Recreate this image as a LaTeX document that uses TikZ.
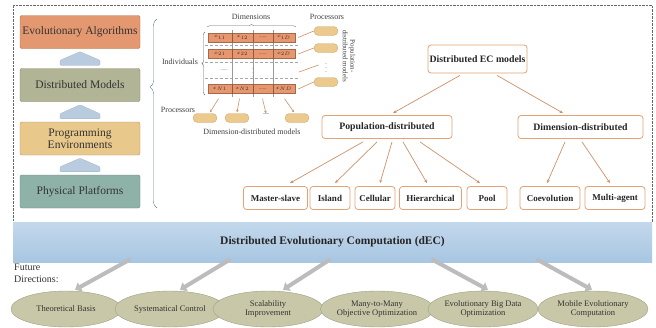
\documentclass[tikz,border=0pt]{standalone}
\usepackage{fontspec}
\setmainfont{Liberation Serif}
\usetikzlibrary{shapes.geometric}
\usetikzlibrary{arrows.meta}
\usetikzlibrary{decorations.pathreplacing}
\usetikzlibrary{positioning}

\definecolor{eaorange}{RGB}{228,152,112}
\definecolor{dmolive}{RGB}{178,180,150}
\definecolor{peyellow}{RGB}{233,200,140}
\definecolor{ppteal}{RGB}{143,178,168}
\definecolor{layerup}{RGB}{185,203,222}
\definecolor{ecedge}{RGB}{226,162,116}
\definecolor{ecline}{RGB}{205,145,105}
\definecolor{cellfill}{RGB}{232,150,110}
\definecolor{pillfill}{RGB}{236,202,142}
\definecolor{bandblue}{RGB}{168,198,226}
\definecolor{bandtop}{RGB}{195,216,236}
\definecolor{futfill}{RGB}{200,200,168}
\definecolor{arrowgray}{RGB}{188,188,188}
\definecolor{bracecol}{RGB}{100,125,140}

\tikzset{
  layerbox/.style={draw=#1!75!black, fill=#1, rounded corners=2pt, minimum width=120pt,
    minimum height=33pt, inner sep=1pt, align=center, text=black!80,
    font=\fontsize{11.5}{12.5}\selectfont},
  layerup/.style={fill=layerup, draw=layerup!85!black, very thin, rounded corners=1pt},
  ecbox/.style={draw=ecedge, fill=white, rounded corners=3pt, line width=0.8pt,
    minimum height=23pt, inner sep=1pt, text=black!85,
    font=\fontsize{9}{10}\selectfont\bfseries},
  ecbig/.style={ecbox, font=\fontsize{9.8}{11}\selectfont\bfseries},
  treearrow/.style={draw=ecline, line width=0.7pt, -{Stealth[length=3.5pt,width=3pt]}},
  cellrow/.style={draw=cellfill!70!black, fill=cellfill, minimum width=87pt,
    minimum height=9pt, inner sep=0pt},
  celltext/.style={font=\fontsize{5}{6}\selectfont, text=black!80, inner sep=0.5pt},
  pill/.style={fill=pillfill, draw=pillfill!85!black, rounded corners=4.5pt,
    minimum width=24pt, minimum height=9pt, inner sep=0pt},
  procline/.style={draw=ecline, line width=0.6pt},
  smalltext/.style={font=\fontsize{8}{8.5}\selectfont, text=black!75, inner sep=1pt},
  bandbox/.style={top color=bandtop, bottom color=bandblue, draw=none,
    minimum width=639pt, minimum height=40pt,
    font=\fontsize{11.5}{12.5}\selectfont\bfseries, text=black!85},
  futnode/.style={ellipse, fill=futfill, draw=futfill!80!black, minimum width=110pt,
    minimum height=36pt, inner sep=0pt, align=center, text=black!80,
    font=\fontsize{8.5}{9.5}\selectfont},
  blockarrow/.style={draw=arrowgray, line width=4pt, -{Triangle[length=6pt,width=10pt]}},
}

\begin{document}
\begin{tikzpicture}[x=1pt,y=-1pt]
\useasboundingbox (0,0) rectangle (656,327);
\fill[white] (0,0) rectangle (656,327);

% outer frame
\draw[densely dotted, black!60] (13,222) -- (13,5) -- (652,5) -- (652,222);

% layers on the left
\node[layerbox=eaorange] (ea) at (80,32) {Evolutionary Algorithms};
\node[layerbox=dmolive] (dm) at (80,85) {Distributed Models};
\node[layerbox=peyellow] (pe) at (80,138.5) {Programming\\Environments};
\node[layerbox=ppteal] (pp) at (80,191.5) {Physical Platforms};
\foreach \lo/\hi in {dm/ea, pe/dm, pp/pe}{
  \filldraw[layerup] ([xshift=-20pt,yshift=3pt]\lo.north) -- ([xshift=-20pt,yshift=8pt]\lo.north)
    -- ([yshift=-3pt]\hi.south) -- ([xshift=20pt,yshift=8pt]\lo.north)
    -- ([xshift=20pt,yshift=3pt]\lo.north) -- cycle;
}
\draw[bracecol, thin, decorate, decoration={brace, amplitude=7pt, aspect=0.64}]
  (157,208) -- (157,19);

% individuals x dimensions
\draw[black!35, densely dashed, very thin] (205,45.5) -- (300,45.5);
\draw[black!35, densely dashed, very thin] (205,62) -- (300,62);
\draw[black!35, densely dashed, very thin] (205,78) -- (300,78);
\foreach \x in {232,253,273}{
  \draw[black!40, very thin] (\x,30) -- (\x,97);
}
\node[cellrow] (row1) at (251.5,37.5) {};
\node[cellrow] (row2) at (251.5,54) {};
\node[cellrow] (rowN) at (251.5,89) {};
\foreach \r/\i in {row1/1, row2/2, rowN/N}{
  \foreach \d in {24,45,65}{
    \draw[cellfill!60!black, thin] ([xshift=\d pt]\r.north west) -- ([xshift=\d pt]\r.south west);
  }
  \node[celltext] at ([xshift=12pt]\r.west) {$x_{\i 1}$};
  \node[celltext] at ([xshift=34.5pt]\r.west) {$x_{\i 2}$};
  \node[celltext] at ([xshift=55pt]\r.west) {......};
  \node[celltext] at ([xshift=76pt]\r.west) {$x_{\i D}$};
}
\node[celltext] (rowdots) at (224,70) {......};
\node[celltext] at (253,70) {$\vdots$};

\draw[black!60, thin, decorate, decoration={brace, amplitude=2.5pt}] (207,27) -- (296,27);
\node[smalltext] (dimlabel) at (251,17) {Dimensions};
\draw[black!60, thin, decorate, decoration={brace, amplitude=3pt}] (205,95) -- (205,32);
\node[smalltext] (indlabel) at (180,62) {Individuals};

% processors of population-distributed models
\node[smalltext] (procright) at (327,17) {Processors};
\node[pill] (pr1) at (326,31) {};
\node[pill] (pr2) at (326,48) {};
\node[celltext, font=\fontsize{6}{6}\selectfont] (prdots) at (326,65) {$\vdots$};
\node[pill] (pr3) at (326,82) {};
\draw[procline] ([xshift=3pt]row1.east) -- (pr1.west);
\draw[procline] ([xshift=3pt]row2.east) -- (pr2.west);
\draw[procline] (299,72) -- ([xshift=-6pt]prdots.west);
\draw[procline] ([xshift=3pt]rowN.east) -- (pr3.west);
\node[smalltext, rotate=-90, align=center, font=\fontsize{7}{7.5}\selectfont] (poplabel) at (349,56)
  {Population-\\distributed models};

% processors of dimension-distributed models
\node[smalltext] (procbottom) at (178,110) {Processors};
\node[pill] (pb1) at (205,118) {};
\node[pill] (pb2) at (237,118) {};
\node[smalltext] (pbdots) at (266,114) {...};
\node[pill] (pb3) at (297,118) {};
\draw[procline, -{Stealth[length=2.5pt,width=2.5pt]}] ([xshift=-33pt,yshift=-5pt]rowN.south) -- ([xshift=5pt,yshift=1pt]pb1.north);
\draw[procline, -{Stealth[length=2.5pt,width=2.5pt]}] ([xshift=-12pt,yshift=-5pt]rowN.south) -- ([yshift=1pt]pb2.north);
\draw[procline, -{Stealth[length=2.5pt,width=2.5pt]}] ([xshift=11pt,yshift=-5pt]rowN.south) -- ([yshift=-1pt]pbdots.north);
\draw[procline, -{Stealth[length=2.5pt,width=2.5pt]}] ([xshift=33pt,yshift=-5pt]rowN.south) -- ([xshift=-3pt,yshift=1pt]pb3.north);
\node[smalltext] (dimdlabel) at (252,132) {Dimension-distributed models};

% taxonomy of distributed EC models
\node[ecbig, minimum width=99pt, minimum height=28pt] (ecm) at (477.5,59) {Distributed EC models};
\node[ecbig, minimum width=130pt] (popd) at (387,127) {Population-distributed};
\node[ecbig, minimum width=125pt] (dimd) at (580.5,127) {Dimension-distributed};
\node[ecbox, minimum width=64pt] (ms) at (275.5,198) {Master-slave};
\node[ecbox, minimum width=40pt] (isl) at (330,198) {Island};
\node[ecbox, minimum width=40pt] (cel) at (375,198) {Cellular};
\node[ecbox, minimum width=62pt] (hier) at (430.5,198) {Hierarchical};
\node[ecbox, minimum width=40pt] (pool) at (487,198) {Pool};
\node[ecbox, minimum width=60pt] (coev) at (550,198) {Coevolution};
\node[ecbox, minimum width=60pt] (magent) at (615,198) {Multi-agent};

\draw[treearrow] ([xshift=-17.5pt,yshift=-2pt]ecm.south) -- ([xshift=6pt,yshift=2pt]popd.north);
\draw[treearrow] ([xshift=19.5pt,yshift=-2pt]ecm.south) -- ([xshift=-17.5pt,yshift=2pt]dimd.north);
\draw[treearrow] ([xshift=-24pt,yshift=-3pt]popd.south) -- ([xshift=14.5pt,yshift=3pt]ms.north);
\draw[treearrow] ([xshift=-10pt,yshift=-3pt]popd.south) -- ([xshift=5pt,yshift=3pt]isl.north);
\draw[treearrow] ([xshift=5pt,yshift=-3pt]popd.south) -- ([xshift=5pt,yshift=3pt]cel.north);
\draw[treearrow] ([xshift=16pt,yshift=-3pt]popd.south) -- ([xshift=-3.5pt,yshift=3pt]hier.north);
\draw[treearrow] ([xshift=33pt,yshift=-3pt]popd.south) -- ([xshift=-7pt,yshift=3pt]pool.north);
\draw[treearrow] ([xshift=-15.5pt,yshift=-3pt]dimd.south) -- ([xshift=-3pt,yshift=3pt]coev.north);
\draw[treearrow] ([xshift=1.5pt,yshift=-3pt]dimd.south) -- ([xshift=-5pt,yshift=3pt]magent.north);

% dEC band
\node[bandbox] (dec) at (332.5,242) {Distributed Evolutionary Computation (dEC)};

% future directions
\node[anchor=north west, align=left, inner sep=0pt, text=black!80,
  font=\fontsize{10}{12}\selectfont] (fdlabel) at (14,264) {Future\\Directions:};
\node[futnode] (fd1) at (66,309) {Theoretical Basis};
\node[futnode] (fd2) at (170,309) {Systematical Control};
\node[futnode] (fd3) at (268,309) {Scalability\\Improvement};
\node[futnode] (fd4) at (377,309) {Many-to-Many\\Objective Optimization};
\node[futnode] (fd5) at (483,309) {Evolutionary Big Data\\Optimization};
\node[futnode] (fd6) at (593,309) {Mobile Evolutionary\\Computation};

\draw[blockarrow] ([xshift=-202pt,yshift=3pt]dec.south) -- ([xshift=9pt,yshift=1pt]fd1.north);
\draw[blockarrow] ([xshift=-102pt,yshift=3pt]dec.south) -- ([xshift=10pt,yshift=1pt]fd2.north);
\draw[blockarrow] ([xshift=-2pt,yshift=3pt]dec.south) -- ([xshift=15pt,yshift=1pt]fd3.north);
\draw[blockarrow] ([xshift=99pt,yshift=3pt]dec.south) -- ([xshift=5pt,yshift=1pt]fd5.north);
\draw[blockarrow] ([xshift=204pt,yshift=3pt]dec.south) -- ([xshift=-1pt,yshift=1pt]fd6.north);

\end{tikzpicture}
\end{document}
